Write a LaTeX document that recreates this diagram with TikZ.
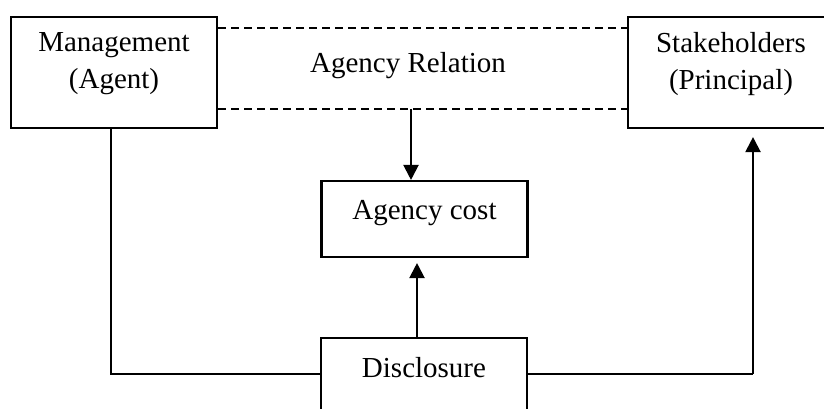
\documentclass[tikz,border=0pt]{standalone}
\usepackage{fontspec}
\setmainfont{Liberation Serif}
\usetikzlibrary{arrows.meta}
\begin{document}
\begin{tikzpicture}[x=1pt,y=-1pt,
  box/.style={draw, line width=2.1pt, minimum width=206pt, inner sep=0pt},
  lbl/.style={font=\fontsize{29}{37}\selectfont, align=center, inner sep=0pt},
  link/.style={line width=2.1pt},
  arr/.style={link, -{Triangle[length=15pt,width=15pt]}},
  rel/.style={line width=1.6pt, dash pattern=on 8pt off 5pt}]
\useasboundingbox (0,0) rectangle (824,409);
\clip (0,0) rectangle (824,409);

% boxes
\node[box, minimum height=111pt] (mgmt) at (114,72.5) {};
\node[box, minimum height=111pt] (stk) at (731,72.5) {};
\node[box, minimum height=76pt] (cost) at (424.5,219) {};
\node[box, minimum height=76pt] (disc) at (424,376) {};

% labels
\node[lbl] (mgmtT) at (114,64) {Management\\(Agent)};
\node[lbl] (stkT) at (731,64) {Stakeholders\\(Principal)};
\node[lbl] (costT) at (424.5,213) {Agency cost};
\node[lbl] (discT) at (424,368) {Disclosure};
\node[lbl] (relT) at (408,66) {Agency Relation};

% agency relation band
\coordinate (relTL) at (mgmt.east |- 0,28);
\coordinate (relTR) at (stk.west |- 0,28);
\coordinate (relBL) at (mgmt.east |- 0,109);
\coordinate (relBR) at (stk.west |- 0,109);
\draw[rel] (relTL) -- (relTR);
\draw[rel] (relBL) -- (relBR);

% relation to cost
\coordinate (relDrop) at (411,109);
\draw[arr] (relDrop) -- (relDrop |- cost.north);

% disclosure to cost
\draw[arr, shorten >=5pt] (disc.north -| 417,0) -- (cost.south -| 417,0);

% management to disclosure
\coordinate (mgmtDown) at (mgmt.south -| 111,0);
\draw[link] (mgmtDown) |- (disc.west |- 0,374);

% disclosure to stakeholders
\coordinate (stkUp) at (753,374);
\draw[link] (disc.east |- stkUp) -- (stkUp);
\draw[arr, shorten >=8pt] (stkUp) -- (stkUp |- stk.south);
\end{tikzpicture}
\end{document}
